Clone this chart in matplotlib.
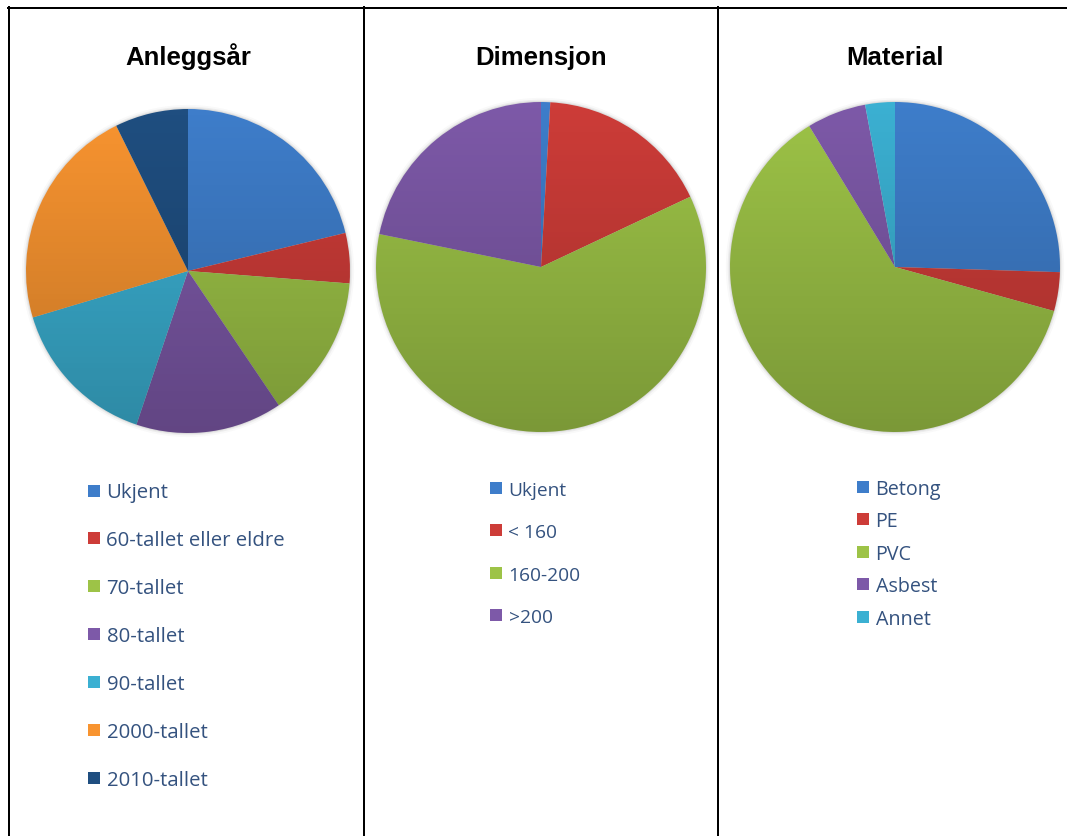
import numpy as np
import matplotlib.pyplot as plt
from matplotlib.patches import Circle, Rectangle
from matplotlib.lines import Line2D

W, H = 1067, 837

titles = ['Anleggsår', 'Dimensjon', 'Material']

aar_labels = ['Ukjent', '60-tallet eller eldre', '70-tallet', '80-tallet',
              '90-tallet', '2000-tallet', '2010-tallet']
aar_values = [21.2, 5.0, 14.3, 14.6, 15.2, 22.3, 7.3]

dim_labels = ['Ukjent', '< 160', '160-200', '>200']
dim_values = [0.9, 17.1, 60.2, 21.8]

mat_labels = ['Betong', 'PE', 'PVC', 'Asbest', 'Annet']
mat_values = [25.5, 3.8, 62.0, 5.8, 2.9]

office = ['#3E7DCA', '#CD3C38', '#9DC347', '#7D59A8', '#3BB0D2', '#F89430', '#1F4E80']
mat_colors = ['#3E7DCA', '#CD3C38', '#9DC347', '#7D59A8', '#3BB0D2']

text_col = '#34527F'

# (centre x, centre y, radius) in pixels, legend (x marker, y first, step, fontsize)
pies = [
    (aar_values, aar_labels, office, 188, 272, 162, (88, 491.5, 47.9, 14.7)),
    (dim_values, dim_labels, office, 541, 268, 165, (490, 489, 42.3, 13.8)),
    (mat_values, mat_labels, mat_colors, 857 + 38, 268, 165, (857, 487.7, 32.5, 14.2)),
]

fig = plt.figure(figsize=(W / 100, H / 100), dpi=100)
fig.patch.set_facecolor('white')


def px(x, y):
    return x / W, 1 - y / H


pad = 1.06
grad = np.zeros((256, 1, 4))
grad[:, 0, 3] = np.linspace(0.0, 0.22, 256)

for i, (vals, labels, cols, cx, cy, r, leg) in enumerate(pies):
    rr = r * pad
    ax = fig.add_axes([(cx - rr) / W, (H - cy - rr) / H, 2 * rr / W, 2 * rr / H])
    # soft edge shadow
    for k, a in [(1.025, 0.06), (1.014, 0.12), (1.006, 0.2)]:
        ax.add_patch(Circle((0, 0), k, color='#9a9a9a', alpha=a, lw=0))
    wedges, _ = ax.pie(vals, colors=cols[:len(vals)], startangle=90,
                       counterclock=False, radius=1,
                       wedgeprops=dict(linewidth=0))
    im = ax.imshow(grad, extent=[-1, 1, -1, 1], aspect='auto', zorder=5)
    im.set_clip_path(Circle((0, 0), 1, transform=ax.transData))
    ax.set_xlim(-pad, pad)
    ax.set_ylim(-pad, pad)
    ax.set_aspect('equal')
    ax.axis('off')

    tx, ty = px(cx, 65)
    fig.text(tx, ty, titles[i], ha='center', va='baseline', fontsize=18.5,
             fontweight='bold', family='Liberation Sans')

    mx, my0, step, fs = leg
    for j, lab in enumerate(labels):
        my = my0 + j * step
        x0, y0 = px(mx, my + 6)
        fig.add_artist(Rectangle((x0, y0), 12 / W, 12 / H, transform=fig.transFigure,
                                 facecolor=cols[j], edgecolor='none'))
        lx, ly = px(mx + 18.5, my + 7)
        fig.text(lx, ly, lab, ha='left', va='baseline', fontsize=fs,
                 color=text_col, family='Open Sans')

# table borders
lw = 2 * 72 / 100
fig.add_artist(Line2D([8 / W, 1], [1 - 9 / H, 1 - 9 / H], transform=fig.transFigure,
                      color='black', lw=lw))
for x in [9, 364, 718]:
    fig.add_artist(Line2D([x / W, x / W], [0, 1 - 8 / H], transform=fig.transFigure,
                          color='black', lw=lw))

fig.savefig('out.png', dpi=100)
